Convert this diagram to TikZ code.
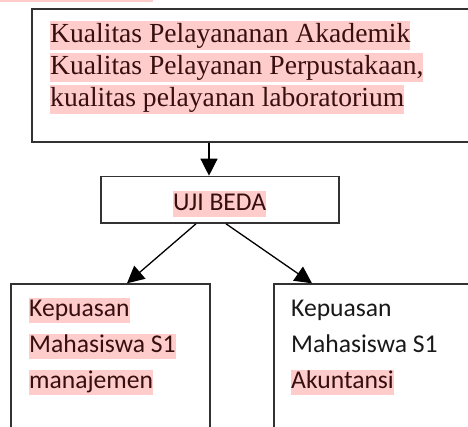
\documentclass[tikz,border=0pt]{standalone}
\usepackage{fontspec}
\setmainfont{Liberation Serif}
\newfontfamily\calfont{Carlito}
\usetikzlibrary{arrows.meta}
\definecolor{hlpink}{RGB}{255,204,204}
\definecolor{hltext}{RGB}{55,15,15}
\definecolor{boxline}{RGB}{50,50,50}
\tikzset{
  box/.style={draw=boxline, line width=1.6pt, fill=white, inner sep=0, anchor=north west},
  arr/.style={line width=1.3pt, -{Triangle[length=17pt,width=17pt]}},
  hlserif/.style={fill=hlpink, text=hltext, inner sep=0, text height=22pt, text depth=7pt, anchor=base west, font=\fontsize{27.6}{32}\selectfont},
  hlsans/.style={fill=hlpink, text=hltext, inner sep=0, text height=19pt, text depth=6pt, anchor=base west, font=\calfont\fontsize{25.6}{36}\selectfont},
  plainsans/.style={text=black!90, inner sep=0, text height=19pt, text depth=6pt, anchor=base west, font=\calfont\fontsize{25.6}{36}\selectfont},
}
\begin{document}
\begin{tikzpicture}[x=1pt,y=-1pt]
\useasboundingbox (0,0) rectangle (468,427);
% top pink strip
\fill[hlpink] (0,0) rectangle (153,2.3);
% boxes
\node[box, minimum width=460pt, minimum height=133pt] (top) at (31,8) {};
\node[box, minimum width=238pt, minimum height=46.5pt] (uji) at (100,175.7) {};
\node[box, minimum width=199pt, minimum height=160pt] (bl) at (10,283.3) {};
\node[box, minimum width=210pt, minimum height=160pt] (br) at (273,283.3) {};
% top text
\node[hlserif] (t1) at (50,43) {Kualitas Pelayananan Akademik};
\node[hlserif] (t2) at (50,75) {Kualitas Pelayanan Perpustakaan,};
\node[hlserif] (t3) at (50,107) {kualitas pelayanan laboratorium};
% uji text
\node[hlsans, text height=20pt, text depth=5.7pt] (u1) at (173,211) {UJI BEDA};
% left text
\node[hlsans] (l1) at (29,316.7) {Kepuasan};
\node[hlsans] (l2) at (29,352.7) {Mahasiswa S1};
\node[hlsans] (l3) at (29,388.7) {manajemen};
% right text
\node[plainsans] (r1) at (291,316.7) {Kepuasan};
\node[plainsans] (r2) at (291,352.7) {Mahasiswa S1};
\node[hlsans] (r3) at (291,388.7) {Akuntansi};
% arrows
\draw[arr] ([xshift=178pt]top.south west) -- ([xshift=109pt]uji.north west);
\draw[arr] ([xshift=96pt]uji.south west) -- ([xshift=117pt]bl.north west);
\draw[arr] ([xshift=126pt]uji.south west) -- ([xshift=39pt]br.north west);
\end{tikzpicture}
\end{document}
